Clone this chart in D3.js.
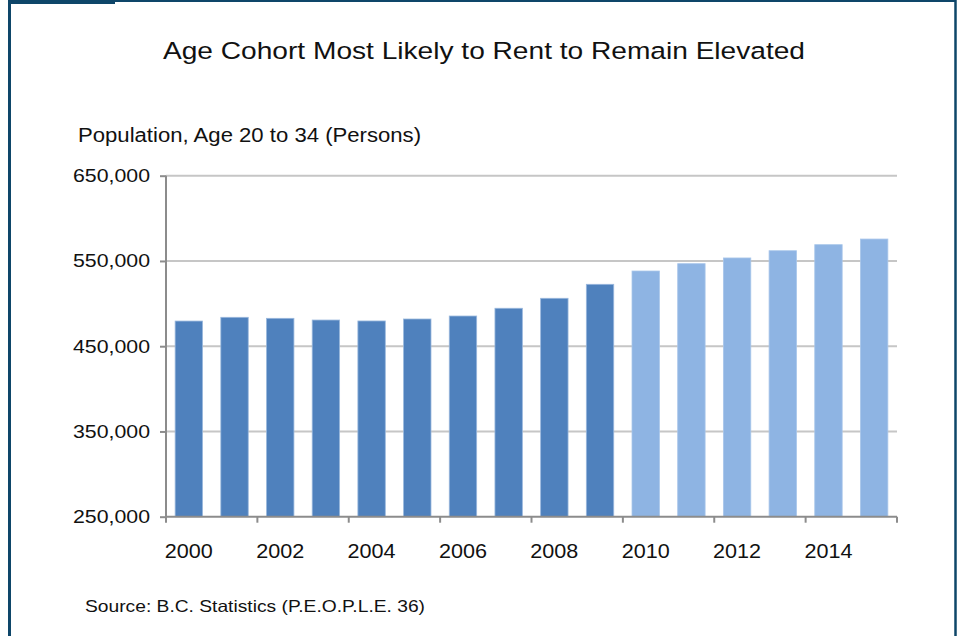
<!DOCTYPE html>
<html>
<head>
<meta charset="utf-8">
<script src="https://cdn.jsdelivr.net/npm/d3@7"></script>
<style>
  body { margin: 0; background: #fff; }
  text { font-family: "Liberation Sans", Arial, sans-serif; fill: #111; }
</style>
</head>
<body>
<div id="chart"></div>
<script>
// years and population (age 20 to 34)
const years = [2000, 2001, 2002, 2003, 2004, 2005, 2006, 2007,
               2008, 2009, 2010, 2011, 2012, 2013, 2014, 2015];
const population = [479500, 483900, 482700, 480700, 479600, 481900, 485400, 494500,
                    506200, 522600, 538200, 546800, 553500, 562000, 569100, 575700];
const firstProjected = 2010;   // lighter bars from here on
const yTicks = [250000, 350000, 450000, 550000, 650000];
const xLabels = [2000, 2002, 2004, 2006, 2008, 2010, 2012, 2014];

const width = 961, height = 636;
const plot = { left: 166, right: 897, top: 175.7, bottom: 516.7 };

const svg = d3.select("#chart").append("svg")
  .attr("width", width)
  .attr("height", height);

// frame
svg.append("rect").attr("x", 0).attr("y", 0).attr("width", width).attr("height", height).attr("fill", "#fff");
svg.append("line").attr("x1", 9.5).attr("x2", 9.5).attr("y1", 0).attr("y2", height)
  .attr("stroke", "#0e4669").attr("stroke-width", 3);
svg.append("line").attr("x1", 955.5).attr("x2", 955.5).attr("y1", 0).attr("y2", height)
  .attr("stroke", "#0e4669").attr("stroke-width", 2.5);
svg.append("line").attr("x1", 8).attr("x2", 956).attr("y1", 1).attr("y2", 1)
  .attr("stroke", "#0e4669").attr("stroke-width", 2);
svg.append("rect").attr("x", 8).attr("y", 0).attr("width", 107).attr("height", 4)
  .attr("fill", "#0e4669");

const x = d3.scaleBand()
  .domain(years)
  .range([plot.left, plot.right])
  .paddingInner(0.4)
  .paddingOuter(0.2);

const y = d3.scaleLinear()
  .domain([250000, 650000])
  .range([plot.bottom, plot.top]);

// gridlines
svg.append("g")
  .selectAll("line")
  .data(yTicks.slice(1))
  .join("line")
  .attr("x1", plot.left)
  .attr("x2", plot.right)
  .attr("y1", d => y(d))
  .attr("y2", d => y(d))
  .attr("stroke", "#c6c6c6")
  .attr("stroke-width", 2);

// bars
svg.append("g")
  .selectAll("rect")
  .data(years)
  .join("rect")
  .attr("x", d => x(d))
  .attr("width", x.bandwidth())
  .attr("y", (d, i) => y(population[i]))
  .attr("height", (d, i) => y(250000) - y(population[i]))
  .attr("fill", d => d >= firstProjected ? "#8eb4e3" : "#4f81bd")
  .attr("stroke", d => d >= firstProjected ? "#a9c6ea" : "#9ab8dd")
  .attr("stroke-width", 0.8);

// y axis
const yAxis = svg.append("g")
  .attr("transform", `translate(${plot.left},0)`)
  .call(d3.axisLeft(y).tickValues(yTicks).tickSize(6).tickPadding(10)
    .tickFormat(d3.format(",")));
yAxis.select(".domain").attr("stroke", "#8c8c8c").attr("stroke-width", 2).attr("d", `M0,${plot.top}V${plot.bottom}`);
yAxis.selectAll(".tick line").attr("stroke", "#8c8c8c").attr("stroke-width", 2);
yAxis.selectAll(".tick text")
  .attr("font-size", 18.6)
  .attr("font-family", "Liberation Sans")
  .attr("fill", "#111")
  .attr("textLength", 77)
  .attr("lengthAdjust", "spacingAndGlyphs");

// x axis: ticks every two categories on band edges
const xAxisG = svg.append("g");
xAxisG.append("line")
  .attr("x1", plot.left).attr("x2", plot.right)
  .attr("y1", plot.bottom).attr("y2", plot.bottom)
  .attr("stroke", "#8c8c8c").attr("stroke-width", 2);
const step = x.step();
const tickYears = years.filter((d, i) => i % 2 === 0).concat([2016]);
xAxisG.selectAll("line.tick")
  .data(tickYears)
  .join("line")
  .attr("class", "tick")
  .attr("x1", d => plot.left + (d - years[0]) * step)
  .attr("x2", d => plot.left + (d - years[0]) * step)
  .attr("y1", plot.bottom)
  .attr("y2", plot.bottom + 6)
  .attr("stroke", "#8c8c8c").attr("stroke-width", 2);
xAxisG.selectAll("text")
  .data(xLabels)
  .join("text")
  .attr("x", d => x(d) + x.bandwidth() / 2)
  .attr("y", 558)
  .attr("text-anchor", "middle")
  .attr("font-size", 20)
  .attr("textLength", 48)
  .attr("lengthAdjust", "spacingAndGlyphs")
  .text(d => d);

// titles
svg.append("text")
  .attr("x", 163).attr("y", 59)
  .attr("font-size", 24.5)
  .attr("textLength", 642)
  .attr("lengthAdjust", "spacingAndGlyphs")
  .text("Age Cohort Most Likely to Rent to Remain Elevated");

svg.append("text")
  .attr("x", 78).attr("y", 142)
  .attr("font-size", 19.5)
  .attr("textLength", 343)
  .attr("lengthAdjust", "spacingAndGlyphs")
  .text("Population, Age 20 to 34 (Persons)");

svg.append("text")
  .attr("x", 85).attr("y", 612)
  .attr("font-size", 16.5)
  .attr("textLength", 340)
  .attr("lengthAdjust", "spacingAndGlyphs")
  .text("Source: B.C. Statistics (P.E.O.P.L.E. 36)");
</script>
</body>
</html>
